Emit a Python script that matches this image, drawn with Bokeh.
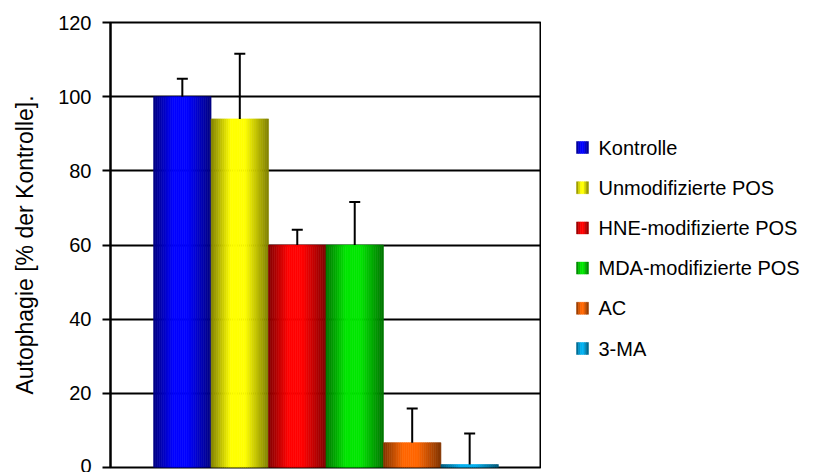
import numpy as np
from bokeh.plotting import figure
from bokeh.layouts import row
from bokeh.models import ColumnDataSource, Range1d, FixedTicker, Whisker, TeeHead
from bokeh.core.properties import value
from bokeh.embed import file_html
from bokeh.resources import INLINE

# Data
categories = ["Kontrolle", "Unmodifizierte POS", "HNE-modifizierte POS",
              "MDA-modifizierte POS", "AC", "3-MA"]
values = [100.0, 94.0, 60.0, 60.0, 6.7, 0.8]
errors = [4.8, 17.6, 4.1, 11.6, 9.2, 8.4]
y_ticks = [0, 20, 40, 60, 80, 100, 120]
axis_title = "Autophagie [% der Kontrolle]."

# Base (brightest) colour of each bar
base_rgb = [(0, 0, 255), (255, 255, 0), (255, 0, 0), (0, 230, 0),
            (255, 102, 0), (0, 176, 240)]

FONT = "Liberation Sans"
N_SLICES = 30


def shade(t):
    """Brightness of a cylinder-like bar across its width (t in 0..1)."""
    if t < 0.35:
        return 0.5 + 0.5 * (t / 0.35)
    if t < 0.6:
        return 1.0
    return 1.0 - 0.5 * ((t - 0.6) / 0.4)


def slice_colors(rgb, n):
    ts = (np.arange(n) + 0.5) / n
    return ["#%02x%02x%02x" % tuple(int(round(c * shade(t))) for c in rgb) for t in ts]


# ---- main chart ----------------------------------------------------------
p = figure(width=541, height=472, output_backend="svg", toolbar_location=None,
           x_range=Range1d(-0.75, len(categories) + 0.75), y_range=Range1d(0, 120),
           min_border_left=110, min_border_right=0, min_border_top=22,
           min_border_bottom=5)

p.background_fill_color = "white"
p.border_fill_color = "white"
p.outline_line_color = "black"
p.outline_line_width = 2

p.xgrid.visible = False
p.ygrid.grid_line_color = "black"
p.ygrid.grid_line_width = 2
p.xaxis.visible = False

ya = p.yaxis[0]
ya.ticker = FixedTicker(ticks=y_ticks)
ya.axis_line_width = 2
ya.axis_line_color = "black"
ya.major_tick_line_width = 2
ya.major_tick_line_color = "black"
ya.major_tick_out = 8
ya.major_tick_in = 0
ya.minor_tick_line_color = None
ya.major_label_text_font = FONT
ya.major_label_text_font_size = "20px"
ya.major_label_text_color = "black"
ya.major_label_standoff = 11
ya.axis_label = axis_title
ya.axis_label_text_font = FONT
ya.axis_label_text_font_size = "23px"
ya.axis_label_text_font_style = "normal"
ya.axis_label_text_color = "black"
ya.axis_label_standoff = 17

# Bars drawn as thin vertical slices to give the shaded look
for i, (val, rgb) in enumerate(zip(values, base_rgb)):
    left = i + np.arange(N_SLICES) / N_SLICES
    src = ColumnDataSource(dict(left=left, right=left + 1.0 / N_SLICES,
                                bottom=np.zeros(N_SLICES),
                                top=np.full(N_SLICES, val),
                                color=slice_colors(rgb, N_SLICES)))
    p.quad(left="left", right="right", bottom="bottom", top="top",
           source=src, fill_color="color", line_color="color", line_width=0.6)

# Upward error bars
err_src = ColumnDataSource(dict(
    x=[i + 0.5 for i in range(len(categories))],
    lower=values,
    upper=[v + e for v, e in zip(values, errors)],
))
p.add_layout(Whisker(source=err_src, base="x", lower="lower", upper="upper",
                     line_color="black", line_width=2, lower_head=None,
                     upper_head=TeeHead(size=11, line_width=2, line_color="black"),
                     level="annotation"))

# ---- legend panel (pixel-like coordinates, y grows downward) -------------
# Its frame lines up with the chart frame (rows 22..467 of the page).
lg = figure(width=288, height=472, output_backend="svg", toolbar_location=None,
            x_range=Range1d(0, 288), y_range=Range1d(467, 22),
            min_border=0, outline_line_color=None)
lg.axis.visible = False
lg.grid.visible = False
lg.background_fill_color = "white"
lg.border_fill_color = "white"

row_y0, row_step = 147, 40.2
sw_left, sw_size, text_x = 35, 12, 57
sw_slices = 6
for k, rgb in enumerate(base_rgb):
    cy = row_y0 + row_step * k
    xs = sw_left + np.arange(sw_slices) * sw_size / sw_slices
    cols = slice_colors(rgb, sw_slices)
    lg.quad(left=xs, right=xs + sw_size / sw_slices,
            top=np.full(sw_slices, cy - sw_size / 2),
            bottom=np.full(sw_slices, cy + sw_size / 2),
            fill_color=cols, line_color=cols, line_width=0.5)

lg_src = ColumnDataSource(dict(
    x=[text_x] * len(categories),
    y=[row_y0 + row_step * k for k in range(len(categories))],
    label=categories,
))
lg.text(x="x", y="y", text="label", source=lg_src,
        text_font=value(FONT), text_font_size="20px", text_color="black",
        text_baseline="middle", text_align="left")

layout = row(p, lg, spacing=0)
open("out.html", "w").write(file_html(layout, INLINE))
